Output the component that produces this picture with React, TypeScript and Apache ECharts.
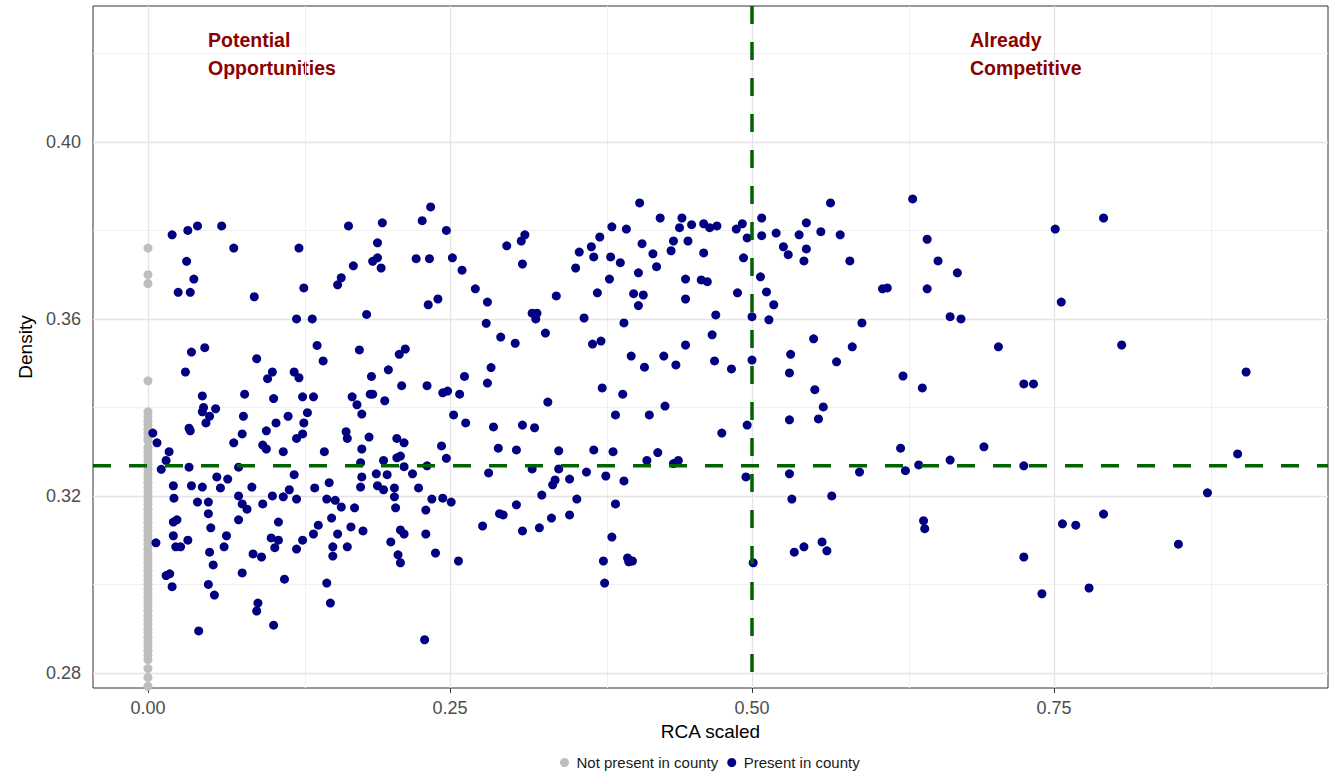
import React, { useEffect, useRef } from "react";
import * as echarts from "echarts";

// ---------- data ----------
const xTicks = [0, 0.25, 0.5, 0.75];
const xMinorGrid = [0.125, 0.375, 0.625, 0.875];
const yTicks = [0.28, 0.32, 0.36, 0.4];
const yMinorGrid = [0.3, 0.34, 0.38, 0.42];
const xRange = [-0.0455, 0.9768];
const yRange = [0.2766, 0.4307];
const densityThreshold = 0.3268;
const rcaThreshold = 0.5;

const seriesNames = ["Not present in county", "Present in county"];

// RCA scaled = 0 for all of these
const notPresentDensity = [
  0.376, 0.37, 0.368, 0.346, 0.339, 0.338, 0.337, 0.336, 0.335, 0.334, 0.333, 0.3325,
  0.331, 0.33, 0.329, 0.328, 0.327, 0.326, 0.325, 0.324, 0.323, 0.322, 0.321, 0.32,
  0.319, 0.318, 0.317, 0.316, 0.315, 0.314, 0.313, 0.312, 0.311, 0.31, 0.309, 0.308,
  0.307, 0.306, 0.305, 0.304, 0.303, 0.302, 0.301, 0.3, 0.299, 0.298, 0.297, 0.296,
  0.295, 0.294, 0.293, 0.292, 0.291, 0.29, 0.289, 0.288, 0.287, 0.286, 0.285, 0.284,
  0.283, 0.281, 0.279, 0.277,
];

const presentInCounty: [number, number][] = [
  [0.02, 0.379], [0.033, 0.38], [0.041, 0.381], [0.061, 0.381], [0.071, 0.376], [0.125, 0.376],
  [0.032, 0.373], [0.038, 0.369], [0.025, 0.366], [0.035, 0.366], [0.088, 0.365], [0.129, 0.367],
  [0.123, 0.36], [0.136, 0.36], [0.036, 0.3525], [0.047, 0.3535], [0.031, 0.348], [0.09, 0.351],
  [0.14, 0.354], [0.145, 0.3505], [0.103, 0.348], [0.099, 0.3465], [0.121, 0.348], [0.125, 0.3467],
  [0.045, 0.3426], [0.046, 0.34], [0.056, 0.3397], [0.08, 0.343], [0.104, 0.342], [0.128, 0.3424],
  [0.137, 0.3424], [0.116, 0.338], [0.132, 0.3388], [0.079, 0.338],
  [0.045, 0.339], [0.051, 0.338], [0.048, 0.3365], [0.129, 0.3365], [0.106, 0.3365], [0.034, 0.3353],
  [0.035, 0.3347], [0.004, 0.3342], [0.0075, 0.332], [0.098, 0.3347], [0.078, 0.334], [0.071, 0.332],
  [0.095, 0.3315], [0.098, 0.3306], [0.128, 0.334], [0.123, 0.333], [0.112, 0.33], [0.146, 0.33],
  [0.0175, 0.33], [0.015, 0.328], [0.011, 0.326], [0.034, 0.3265], [0.075, 0.3265], [0.121, 0.3248],
  [0.057, 0.3243], [0.066, 0.3238], [0.021, 0.3223], [0.036, 0.3223], [0.045, 0.322], [0.06, 0.3218],
  [0.086, 0.322], [0.138, 0.3218], [0.117, 0.3214], [0.112, 0.3198], [0.123, 0.3193], [0.103, 0.32],
  [0.15, 0.323], [0.148, 0.3193], [0.0215, 0.3195], [0.041, 0.3186], [0.05, 0.3186], [0.075, 0.32],
  [0.078, 0.3182], [0.082, 0.317], [0.095, 0.3182], [0.05, 0.316], [0.021, 0.3141], [0.024, 0.3146],
  [0.075, 0.3146], [0.108, 0.3141], [0.052, 0.3128], [0.141, 0.3134], [0.137, 0.3114], [0.021, 0.311],
  [0.065, 0.311], [0.033, 0.31], [0.0066, 0.3094], [0.023, 0.3085], [0.027, 0.3085], [0.102, 0.3105],
  [0.108, 0.31], [0.063, 0.3085], [0.105, 0.3083], [0.123, 0.308], [0.128, 0.31], [0.051, 0.3073],
  [0.087, 0.3069], [0.094, 0.3062], [0.054, 0.3044], [0.015, 0.302], [0.018, 0.3024], [0.02, 0.2995],
  [0.05, 0.3], [0.055, 0.2976], [0.078, 0.3026], [0.113, 0.3012], [0.148, 0.3003], [0.151, 0.2958],
  [0.091, 0.2958], [0.09, 0.294], [0.104, 0.2908], [0.042, 0.2895],
  [0.166, 0.381], [0.194, 0.3817], [0.234, 0.3853], [0.227, 0.3822], [0.247, 0.38], [0.19, 0.3772],
  [0.19, 0.3738], [0.186, 0.373], [0.193, 0.3715], [0.222, 0.3736], [0.233, 0.3736], [0.252, 0.3738],
  [0.26, 0.371], [0.17, 0.372], [0.16, 0.3693], [0.157, 0.3677], [0.271, 0.3668], [0.281, 0.3638],
  [0.297, 0.3765], [0.309, 0.3776], [0.312, 0.379], [0.31, 0.3724], [0.232, 0.3632], [0.24, 0.3645],
  [0.181, 0.361], [0.28, 0.359], [0.292, 0.3559], [0.304, 0.3545], [0.175, 0.353], [0.208, 0.352],
  [0.213, 0.3532], [0.199, 0.3485], [0.185, 0.347], [0.284, 0.349], [0.262, 0.347], [0.281, 0.3455],
  [0.21, 0.3449], [0.231, 0.3449], [0.169, 0.3424], [0.173, 0.3406], [0.184, 0.343], [0.186, 0.343],
  [0.196, 0.3415], [0.244, 0.3433], [0.248, 0.3437], [0.258, 0.343], [0.177, 0.3385], [0.253, 0.3383],
  [0.164, 0.3345], [0.165, 0.333], [0.183, 0.3333], [0.177, 0.3306], [0.206, 0.333], [0.212, 0.332],
  [0.206, 0.3286], [0.209, 0.329], [0.195, 0.328], [0.176, 0.3275], [0.212, 0.3266], [0.231, 0.3268],
  [0.243, 0.3313], [0.247, 0.3285], [0.263, 0.3365], [0.286, 0.3356], [0.29, 0.3308], [0.305, 0.3304],
  [0.31, 0.336], [0.282, 0.3252], [0.177, 0.3243], [0.189, 0.325], [0.198, 0.3248], [0.219, 0.325],
  [0.176, 0.322], [0.19, 0.3223], [0.195, 0.3214], [0.204, 0.3218], [0.224, 0.3218], [0.204, 0.3198],
  [0.205, 0.3173], [0.235, 0.3193], [0.244, 0.3195], [0.251, 0.3186], [0.23, 0.3168], [0.155, 0.319],
  [0.16, 0.3175], [0.171, 0.3173], [0.152, 0.315], [0.168, 0.313], [0.178, 0.3121], [0.157, 0.3114],
  [0.209, 0.3123], [0.212, 0.3114], [0.23, 0.3114], [0.201, 0.3096], [0.153, 0.3085], [0.153, 0.3064],
  [0.165, 0.3085], [0.207, 0.3067], [0.209, 0.3049], [0.238, 0.3071], [0.257, 0.3053], [0.291, 0.316],
  [0.294, 0.3157], [0.305, 0.318], [0.277, 0.3132], [0.31, 0.3121], [0.229, 0.2875],
  [0.407, 0.3862], [0.424, 0.3828], [0.442, 0.3828], [0.44, 0.3806], [0.45, 0.3813], [0.46, 0.3815],
  [0.465, 0.3806], [0.471, 0.381], [0.384, 0.3808], [0.396, 0.3803], [0.374, 0.3785], [0.367, 0.3763],
  [0.357, 0.3751], [0.369, 0.374], [0.383, 0.374], [0.391, 0.3727], [0.409, 0.377], [0.418, 0.3747],
  [0.435, 0.3776], [0.433, 0.3754], [0.447, 0.3776], [0.46, 0.3749], [0.421, 0.3718], [0.406, 0.3704],
  [0.354, 0.3715], [0.382, 0.369], [0.445, 0.369], [0.458, 0.3688], [0.463, 0.3684], [0.338, 0.3652],
  [0.372, 0.3659], [0.402, 0.3657], [0.41, 0.3654], [0.406, 0.363], [0.445, 0.3645], [0.318, 0.3613],
  [0.322, 0.3613], [0.321, 0.36], [0.361, 0.3602], [0.394, 0.3591], [0.47, 0.3609], [0.329, 0.3568],
  [0.368, 0.3543], [0.375, 0.355], [0.445, 0.3541], [0.467, 0.3564], [0.4, 0.3516], [0.411, 0.3491],
  [0.427, 0.3516], [0.437, 0.3496], [0.469, 0.3505], [0.376, 0.3444], [0.393, 0.343], [0.331, 0.3412],
  [0.428, 0.3403], [0.387, 0.3383], [0.415, 0.3383],
  [0.32, 0.3354], [0.34, 0.3302], [0.369, 0.3304], [0.385, 0.33], [0.422, 0.3298], [0.413, 0.328],
  [0.435, 0.3273], [0.439, 0.328], [0.475, 0.3342], [0.318, 0.3261], [0.34, 0.3261], [0.363, 0.3254],
  [0.379, 0.3245], [0.394, 0.3234], [0.349, 0.3238], [0.337, 0.3236], [0.335, 0.3225], [0.326, 0.3202],
  [0.355, 0.3193], [0.387, 0.3182], [0.334, 0.315], [0.349, 0.3157], [0.324, 0.3128], [0.384, 0.3107],
  [0.377, 0.3053], [0.397, 0.306], [0.398, 0.3051], [0.401, 0.3053], [0.378, 0.3003],
  [0.565, 0.3862], [0.633, 0.3871], [0.487, 0.3803], [0.492, 0.3815], [0.508, 0.3828], [0.496, 0.3783],
  [0.508, 0.3788], [0.52, 0.3794], [0.539, 0.379], [0.545, 0.3817], [0.557, 0.3797], [0.573, 0.379],
  [0.526, 0.3763], [0.53, 0.3745], [0.545, 0.3758], [0.543, 0.3731], [0.581, 0.3731], [0.493, 0.3738],
  [0.507, 0.3695], [0.512, 0.3661], [0.488, 0.3659], [0.518, 0.3632], [0.5, 0.3605], [0.514, 0.3598],
  [0.608, 0.3668], [0.612, 0.367], [0.591, 0.3591], [0.551, 0.3555], [0.583, 0.3537], [0.532, 0.352],
  [0.57, 0.3503], [0.5, 0.3507], [0.483, 0.3487], [0.531, 0.3478], [0.625, 0.3471], [0.552, 0.344],
  [0.559, 0.3401],
  [0.496, 0.336], [0.531, 0.3372], [0.555, 0.3374], [0.623, 0.3308], [0.495, 0.3243], [0.531, 0.325],
  [0.589, 0.3254], [0.627, 0.3257], [0.638, 0.327], [0.533, 0.3193], [0.566, 0.32], [0.535, 0.3073],
  [0.543, 0.3085], [0.558, 0.3096], [0.562, 0.3076], [0.501, 0.3049],
  [0.645, 0.378], [0.654, 0.3731], [0.67, 0.3704], [0.645, 0.3668], [0.664, 0.3605], [0.673, 0.36],
  [0.704, 0.3537], [0.641, 0.3444], [0.725, 0.3453], [0.733, 0.3453], [0.751, 0.3803], [0.791, 0.3828],
  [0.756, 0.3638], [0.806, 0.3541], [0.909, 0.348], [0.692, 0.3311], [0.664, 0.3281], [0.725, 0.3268],
  [0.902, 0.3295], [0.877, 0.3207], [0.642, 0.3144], [0.643, 0.3126], [0.757, 0.3137], [0.768, 0.3134],
  [0.791, 0.3159], [0.853, 0.3091], [0.725, 0.3062], [0.74, 0.2979], [0.779, 0.2992],
];

// ---------- chart ----------
const FONT = "Liberation Sans";

export default function App() {
  const ref = useRef<HTMLDivElement>(null);

  useEffect(() => {
    document.body.style.margin = "0";
    const chart = echarts.init(ref.current!, null, { renderer: "svg" });

    const gridLine = (v: number, axis: "xAxis" | "yAxis", minor: boolean) => ({
      [axis]: v,
      lineStyle: { color: minor ? "#f0f0f0" : "#e4e4e4", width: minor ? 1 : 1.3, type: "solid" },
    });

    const dashStyle = { color: "#006400", width: 3.5, type: [18, 18] };

    const option: any = {
      animation: false,
      backgroundColor: "#ffffff",
      textStyle: { fontFamily: FONT },
      grid: {
        left: 93,
        top: 6,
        width: 1235,
        height: 682,
        show: true,
        borderColor: "#333333",
        borderWidth: 1,
        backgroundColor: "#ffffff",
      },
      xAxis: {
        type: "value",
        min: xRange[0],
        max: xRange[1],
        name: "RCA scaled",
        nameLocation: "middle",
        nameGap: 34,
        nameTextStyle: { fontSize: 19, color: "#000000", fontFamily: FONT },
        axisLine: { show: false },
        axisTick: { show: true, length: 5, customValues: xTicks, lineStyle: { color: "#333333" } },
        axisLabel: {
          customValues: xTicks,
          fontSize: 18,
          color: "#4d4d4d",
          margin: 11,
          fontFamily: FONT,
          formatter: (v: number) => v.toFixed(2),
        },
        splitLine: { show: false },
      },
      yAxis: {
        type: "value",
        min: yRange[0],
        max: yRange[1],
        name: "Density",
        nameLocation: "middle",
        nameGap: 54,
        nameTextStyle: { fontSize: 19, color: "#000000", fontFamily: FONT },
        axisLine: { show: false },
        axisTick: { show: true, length: 5, customValues: yTicks, lineStyle: { color: "#333333" } },
        axisLabel: {
          customValues: yTicks,
          fontSize: 18,
          color: "#4d4d4d",
          margin: 12,
          fontFamily: FONT,
          formatter: (v: number) => v.toFixed(2),
        },
        splitLine: { show: false },
      },
      legend: {
        data: seriesNames,
        left: 560,
        top: 755,
        padding: 0,
        icon: "circle",
        itemWidth: 14,
        itemHeight: 9,
        itemGap: 9,
        textStyle: { fontSize: 15, color: "#1a1a1a", fontFamily: FONT },
      },
      graphic: [
        {
          type: "text",
          left: 208,
          top: 26,
          silent: true,
          style: {
            text: "Potential\nOpportunities",
            font: `bold 19.5px "${FONT}"`,
            lineHeight: 28,
            fill: "#8B0000",
          },
        },
        {
          type: "text",
          left: 970,
          top: 26,
          silent: true,
          style: {
            text: "Already\nCompetitive",
            font: `bold 19.5px "${FONT}"`,
            lineHeight: 28,
            fill: "#8B0000",
          },
        },
      ],
      series: [
        {
          name: "gridlines",
          type: "scatter",
          data: [],
          silent: true,
          markLine: {
            silent: true,
            z: 1,
            symbol: ["none", "none"],
            label: { show: false },
            emphasis: { disabled: true },
            data: [
              ...xMinorGrid.map((v) => gridLine(v, "xAxis", true)),
              ...yMinorGrid.map((v) => gridLine(v, "yAxis", true)),
              ...xTicks.map((v) => gridLine(v, "xAxis", false)),
              ...yTicks.map((v) => gridLine(v, "yAxis", false)),
            ],
          },
        },
        {
          name: seriesNames[0],
          type: "scatter",
          symbolSize: 9,
          itemStyle: { color: "#BEBEBE", opacity: 1 },
          data: notPresentDensity.map((d) => [0, d]),
          z: 2,
        },
        {
          name: seriesNames[1],
          type: "scatter",
          symbolSize: 9,
          itemStyle: { color: "#000080", opacity: 1 },
          data: presentInCounty,
          z: 3,
        },
        {
          name: "densityThreshold",
          type: "line",
          silent: true,
          symbol: "none",
          z: 6,
          lineStyle: dashStyle,
          data: [
            [xRange[0], densityThreshold],
            [xRange[1], densityThreshold],
          ],
        },
        {
          name: "rcaThreshold",
          type: "line",
          silent: true,
          symbol: "none",
          z: 6,
          lineStyle: dashStyle,
          data: [
            [rcaThreshold, yRange[1]],
            [rcaThreshold, yRange[0]],
          ],
        },
      ],
    };

    chart.setOption(option);
    return () => chart.dispose();
  }, []);

  return (
    <div
      ref={ref}
      style={{ position: "fixed", left: 0, top: 0, width: 1335, height: 772 }}
    />
  );
}
